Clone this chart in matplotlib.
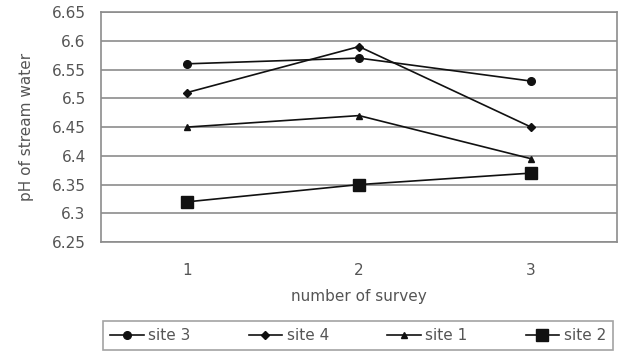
import matplotlib.pyplot as plt
import numpy as np

plt.rcParams['font.family'] = ['DejaVu Sans']

surveys = ['1', '2', '3']
site3 = [6.56, 6.57, 6.53]
site4 = [6.51, 6.59, 6.45]
site1 = [6.45, 6.47, 6.395]
site2 = [6.32, 6.35, 6.37]

txt = '#555555'
fs = 11
fig = plt.figure(figsize=(6.31, 3.55), dpi=100)
ax = fig.add_axes([0.160, 0.318, 0.818, 0.648])

x = np.arange(len(surveys))
ax.plot(x, site3, color='#111111', lw=1.2, marker='o', ms=5.5, label='site 3')
ax.plot(x, site4, color='#111111', lw=1.2, marker='D', ms=4, label='site 4')
ax.plot(x, site1, color='#111111', lw=1.2, marker='^', ms=5, label='site 1')
ax.plot(x, site2, color='#111111', lw=1.2, marker='s', ms=8.5, label='site 2')

ax.set_xlim(-0.5, 2.5)
ax.set_ylim(6.25, 6.65)
ax.set_yticks(np.arange(6.25, 6.651, 0.05))
ax.set_yticklabels(['6.25', '6.3', '6.35', '6.4', '6.45', '6.5', '6.55', '6.6', '6.65'])
ax.set_xticks(x)
ax.set_xticklabels(surveys)
ax.yaxis.grid(True, color='#8c8c8c', lw=1.2)
ax.set_axisbelow(True)
for s in ax.spines.values():
    s.set_color('#8c8c8c')
    s.set_linewidth(1.2)
ax.tick_params(axis='both', length=0, labelsize=fs, colors=txt)
ax.tick_params(axis='y', pad=11)
ax.tick_params(axis='x', pad=15)

ax.set_xlabel('number of survey', fontsize=fs, color=txt, labelpad=8)
ax.set_ylabel('pH of stream water', fontsize=fs, color=txt, labelpad=13)

leg = ax.legend(loc='upper left', bbox_to_anchor=(0.004, -0.345), borderaxespad=0,
                ncol=4, frameon=True, fancybox=False, edgecolor='#8c8c8c', fontsize=fs,
                handlelength=2.2, handletextpad=0.3, columnspacing=3.8, borderpad=0.45,
                labelcolor=txt)
leg.get_frame().set_linewidth(1.2)

fig.savefig('out.png', dpi=100)
